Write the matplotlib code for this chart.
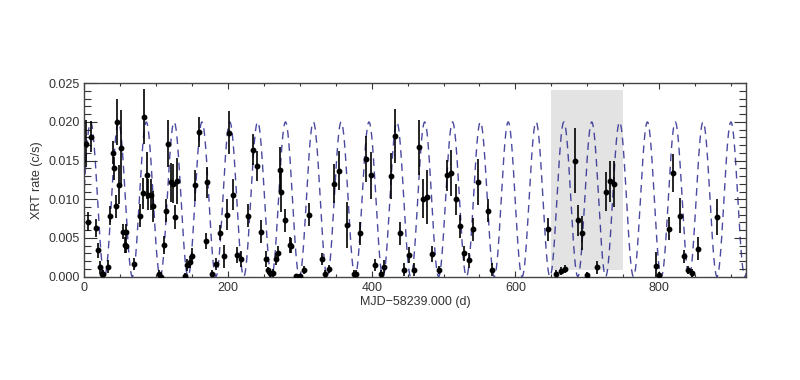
import numpy as np
import matplotlib
matplotlib.use('Agg')
import matplotlib.pyplot as plt
from matplotlib.ticker import MultipleLocator, FormatStrFormatter

plt.rcParams['font.family'] = ['Liberation Sans', 'DejaVu Sans']

# Swift/XRT light curve
t = [2.4, 5.6, 8.9, 15.9, 18.7, 21.9, 24.2, 26.5, 33.5, 35.8, 39.6, 41.9, 44.2, 45.1,
     48.4, 51.2, 54.4, 56.0, 57.5, 58.5, 69.7, 77.6, 81.4, 83.7, 86.9, 89.2, 92.5, 95.3,
     104.5, 106.9, 111.0, 113.9, 117.1, 120.6, 123.1, 126.4, 128.7, 140.0, 143.6, 147.5,
     150.5, 154.3, 159.5, 169.1, 171.4, 177.4, 183.4, 189.0, 195.0, 198.3, 201.0, 206.7,
     213.1, 218.5, 228.0, 234.1, 240.0, 246.0, 252.2, 255.2, 258.8, 262.0, 266.7, 269.5,
     272.8, 273.6, 279.7, 285.7, 288.0, 295.0, 300.0, 306.0, 312.2, 330.9, 335.5, 341.0,
     348.0, 354.0, 365.7, 375.0, 378.0, 384.2, 392.2, 399.6, 405.2, 413.6, 416.9, 427.0,
     433.0, 439.0, 445.0, 451.6, 458.6, 465.5, 471.2, 477.2, 483.3, 493.6, 504.2, 510.7,
     516.7, 523.6, 528.9, 535.2, 541.3, 547.7, 561.7, 567.8, 645.3, 656.0, 663.0, 669.0,
     682.5, 687.2, 693.3, 699.3, 713.2, 725.7, 731.7, 737.3, 796.4, 800.0, 814.0, 820.0,
     829.3, 835.0, 840.9, 846.4, 853.5, 880.4]
rate = [0.0172, 0.0071, 0.0181, 0.0063, 0.0034, 0.0012, 0.0004, 0.0003, 0.0013, 0.0079,
        0.0160, 0.0140, 0.0091, 0.0200, 0.0119, 0.0166, 0.0058, 0.0041, 0.0058, 0.0040,
        0.0016, 0.0079, 0.0108, 0.0207, 0.0131, 0.0106, 0.0106, 0.0091, 0.0004, 0.0000,
        0.0041, 0.0085, 0.0172, 0.0122, 0.0120, 0.0077, 0.0124, 0.0001, 0.0015, 0.0019,
        0.0027, 0.0118, 0.0187, 0.0046, 0.0122, 0.0004, 0.0016, 0.0057, 0.0026, 0.0080,
        0.0186, 0.0106, 0.0028, 0.0023, 0.0079, 0.0164, 0.0143, 0.0058, 0.0023, 0.0008,
        0.0005, 0.0005, 0.0023, 0.0031, 0.0138, 0.0109, 0.0073, 0.0041, 0.0040, 0.0001,
        0.0001, 0.0009, 0.0080, 0.0023, 0.0004, 0.0010, 0.0120, 0.0137, 0.0067, 0.0004,
        0.0004, 0.0056, 0.0152, 0.0131, 0.0015, 0.0004, 0.0013, 0.0130, 0.0182, 0.0056,
        0.0009, 0.0028, 0.0009, 0.0167, 0.0101, 0.0103, 0.0029, 0.0009, 0.0131, 0.0134,
        0.0100, 0.0065, 0.0030, 0.0021, 0.0061, 0.0122, 0.0085, 0.0009, 0.0061, 0.0004,
        0.0007, 0.0010, 0.0150, 0.0073, 0.0057, 0.0002, 0.0012, 0.0110, 0.0123, 0.0120,
        0.0014, 0.0002, 0.0062, 0.0134, 0.0079, 0.0026, 0.0009, 0.0005, 0.0036, 0.0077]
err = [0.0030, 0.0012, 0.0020, 0.0012, 0.0010, 0.0008, 0.0005, 0.0005, 0.0008, 0.0012,
       0.0015, 0.0015, 0.0015, 0.0030, 0.0025, 0.0050, 0.0010, 0.0010, 0.0010, 0.0010,
       0.0008, 0.0015, 0.0020, 0.0035, 0.0030, 0.0020, 0.0020, 0.0020, 0.0005, 0.0004,
       0.0012, 0.0015, 0.0030, 0.0025, 0.0025, 0.0015, 0.0030, 0.0004, 0.0008, 0.0008,
       0.0010, 0.0020, 0.0020, 0.0010, 0.0020, 0.0005, 0.0008, 0.0010, 0.0015, 0.0020,
       0.0028, 0.0020, 0.0010, 0.0010, 0.0015, 0.0020, 0.0020, 0.0015, 0.0010, 0.0005,
       0.0005, 0.0005, 0.0008, 0.0008, 0.0030, 0.0025, 0.0015, 0.0010, 0.0010, 0.0003,
       0.0003, 0.0005, 0.0015, 0.0008, 0.0005, 0.0005, 0.0025, 0.0025, 0.0030, 0.0004,
       0.0004, 0.0015, 0.0030, 0.0030, 0.0008, 0.0005, 0.0008, 0.0030, 0.0035, 0.0015,
       0.0008, 0.0010, 0.0008, 0.0035, 0.0025, 0.0035, 0.0010, 0.0005, 0.0020, 0.0030,
       0.0020, 0.0015, 0.0010, 0.0010, 0.0015, 0.0030, 0.0015, 0.0008, 0.0015, 0.0005,
       0.0005, 0.0005, 0.0042, 0.0020, 0.0022, 0.0004, 0.0008, 0.0025, 0.0027, 0.0030,
       0.0018, 0.0004, 0.0015, 0.0025, 0.0023, 0.0008, 0.0005, 0.0005, 0.0015, 0.0023]

# sinusoidal model (period / phase / amplitude)
period = 38.75
t_peak = 8.75
mean_rate = 0.010
amp = 0.010

# shaded interval
shade_t = [650, 750]
shade_rate = [0.00085, 0.0241]

fig = plt.figure(figsize=(8, 3.8), dpi=100)
ax = fig.add_axes([0.1054, 0.2721, 0.8271, 0.5087])

ax.fill_between(shade_t, shade_rate[0], shade_rate[1], color='#e3e3e3', lw=0, zorder=0)

tm = np.linspace(0, 925, 3000)
model = mean_rate + amp * np.cos(2 * np.pi * (tm - t_peak) / period)
ax.plot(tm, model, color='#2a2a90', lw=1.0, dashes=(5.5, 4), alpha=0.85, zorder=1)

ax.errorbar(t, rate, yerr=err, xerr=1.2, fmt='o', ms=3.2, color='black',
            ecolor='black', elinewidth=1.2, capsize=0, zorder=3)

ax.set_xlim(0, 921)
ax.set_ylim(0, 0.025)
ax.xaxis.set_major_locator(MultipleLocator(200))
ax.xaxis.set_minor_locator(MultipleLocator(50))
ax.yaxis.set_major_locator(MultipleLocator(0.005))
ax.yaxis.set_minor_locator(MultipleLocator(0.001))
ax.yaxis.set_major_formatter(FormatStrFormatter('%.3f'))

ax.tick_params(axis='both', which='both', direction='in', top=True, right=True,
               colors='#333333', labelsize=9, width=0.8)
ax.tick_params(axis='y', which='major', length=9)
ax.tick_params(axis='y', which='minor', length=5)
ax.tick_params(axis='x', which='major', length=4, pad=4)
ax.tick_params(axis='x', which='minor', length=2)
for sp in ax.spines.values():
    sp.set_color('#444444')
    sp.set_linewidth(1.0)

ax.set_xlabel('MJD\u221258239.000 (d)', fontsize=9, color='#333333', labelpad=1)
ax.set_ylabel('XRT rate (c/s)', fontsize=9, color='#333333', labelpad=4)

fig.savefig('out.png', dpi=100)
